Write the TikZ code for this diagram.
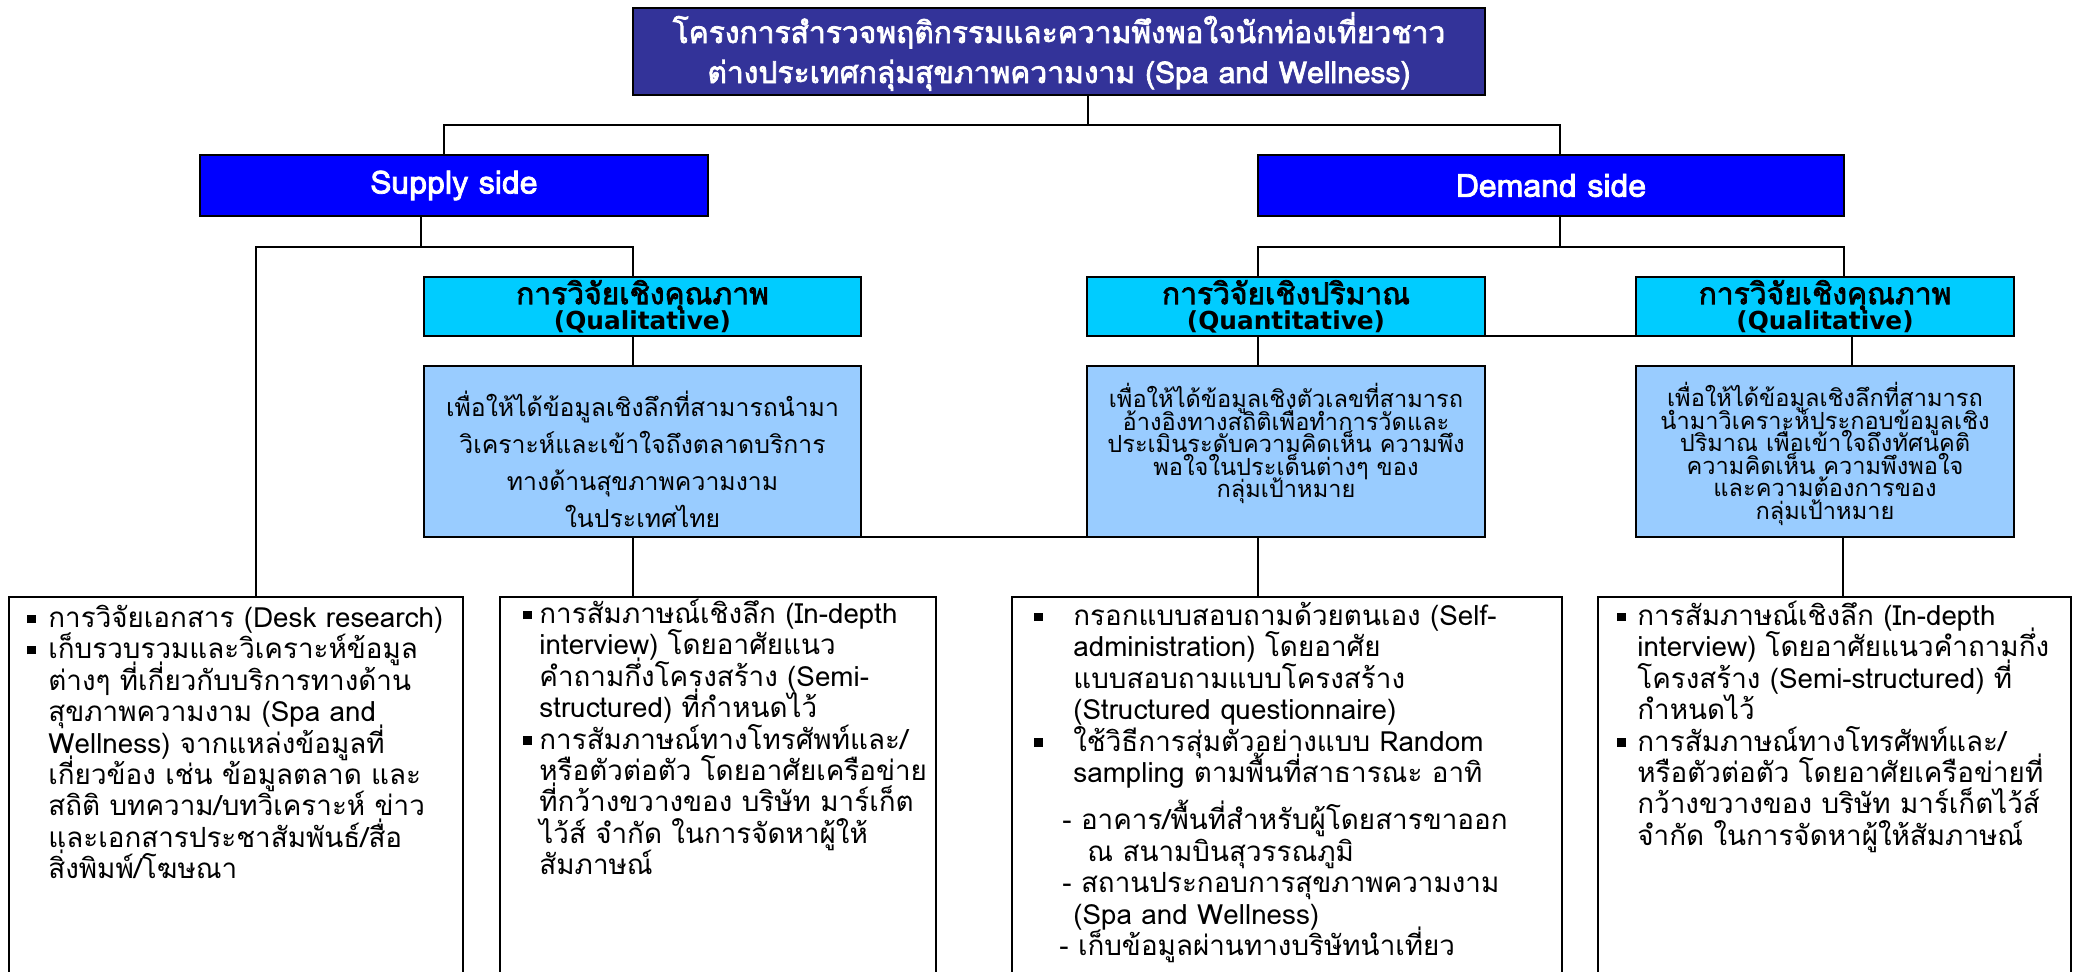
\documentclass[tikz,border=0pt]{standalone}
\usepackage{fontspec}
\newfontfamily\thfont[Script=Thai]{Loma}
\newfontfamily\thbf[Script=Thai,FakeBold=2.4]{Loma}
\newfontfamily\latbf{DejaVu Sans}
\definecolor{titlebg}{HTML}{333399}
\definecolor{sidebg}{HTML}{0000FF}
\definecolor{cyanbg}{HTML}{00CCFF}
\definecolor{lightbg}{HTML}{99CCFF}
\newcommand\sqbul[1]{\makebox[#1][l]{\rule[0.3ex]{0.3em}{0.3em}}}
\newcommand\nolsl{\lineskiplimit-50pt\relax}
\newcommand\cylat[1]{{\latbf\bfseries\fontsize{12.4}{12.5}\selectfont #1}}
\begin{document}
\begin{tikzpicture}[x=0.5pt,y=-0.5pt,
  box/.style={draw=black, line width=1.1pt, inner sep=0pt, outer sep=0pt},
  ttl/.style={box, fill=titlebg, text=white, align=center, font=\thbf\fontsize{15}{20}\selectfont\nolsl},
  side/.style={box, fill=sidebg, text=white, font=\thbf\fontsize{16}{18}\selectfont},
  cyanbox/.style={box, fill=cyanbg, align=center, font=\thbf\fontsize{15}{12.5}\selectfont\nolsl},
  lbox/.style={box, fill=lightbg},
  lbtxt/.style={inner sep=0pt, align=center, font=\thfont\fontsize{12.4}{18.5}\selectfont\nolsl},
  lbtxtb/.style={inner sep=0pt, align=center, font=\thfont\fontsize{11.8}{11.25}\selectfont\nolsl},
  bbox/.style={box, fill=white},
  btxt/.style={anchor=north west, inner sep=0pt, align=left, font=\thfont\fontsize{13.9}{15.7}\selectfont\nolsl},
  conn/.style={draw=black, line width=1.1pt}]
\useasboundingbox (0,0) rectangle (2076,972);
\fill[white] (0,0) rectangle (2076,972);

% boxes
\node[ttl, minimum width=426pt, minimum height=43.5pt] (title) at (1059,51.5)
  {โครงการสำรวจพฤติกรรมและความพึงพอใจนักท่องเที่ยวชาว\\ต่างประเทศกลุ่มสุขภาพความงาม (Spa and Wellness)};
\node[side, minimum width=254pt, minimum height=30.5pt] (supply) at (454,185.5) {Supply side};
\node[side, minimum width=293pt, minimum height=30.5pt] (demand) at (1551,185.5) {Demand side};

\node[cyanbox, minimum width=218.5pt, minimum height=29.5pt] (sq) at (642.5,306.5) {การวิจัยเชิงคุณภาพ\\\cylat{(Qualitative)}};
\node[cyanbox, minimum width=199pt, minimum height=29.5pt] (qn) at (1286,306.5) {การวิจัยเชิงปริมาณ\\\cylat{(Quantitative)}};
\node[cyanbox, minimum width=189pt, minimum height=29.5pt] (dq) at (1825,306.5) {การวิจัยเชิงคุณภาพ\\\cylat{(Qualitative)}};

\node[lbox, minimum width=218.5pt, minimum height=85.5pt] (sl) at (642.5,451.5) {};
\node[lbox, minimum width=199pt, minimum height=85.5pt] (ql) at (1286,451.5) {};
\node[lbox, minimum width=189pt, minimum height=85.5pt] (dl) at (1825,451.5) {};

\node[lbtxt] (sltx) at (642.5,459.5) {เพื่อให้ได้ข้อมูลเชิงลึกที่สามารถนำมา\\วิเคราะห์และเข้าใจถึงตลาดบริการ\\ทางด้านสุขภาพความงาม\\ในประเทศไทย};
\node[lbtxtb] (qltx) at (1286,443.5) {เพื่อให้ได้ข้อมูลเชิงตัวเลขที่สามารถ\\อ้างอิงทางสถิติเพื่อทำการวัดและ\\ประเมินระดับความคิดเห็น ความพึง\\พอใจในประเด็นต่างๆ ของ\\กลุ่มเป้าหมาย};
\node[lbtxtb] (dltx) at (1825,454) {เพื่อให้ได้ข้อมูลเชิงลึกที่สามารถ\\นำมาวิเคราะห์ประกอบข้อมูลเชิง\\ปริมาณ เพื่อเข้าใจถึงทัศนคติ\\ความคิดเห็น ความพึงพอใจ\\และความต้องการของ\\กลุ่มเป้าหมาย};

\node[bbox, minimum width=227pt, minimum height=201.5pt] (b1) at (236,798.5) {};
\node[bbox, minimum width=218pt, minimum height=201.5pt] (b2) at (718,798.5) {};
\node[bbox, minimum width=275pt, minimum height=201.5pt] (b3) at (1287,798.5) {};
\node[bbox, minimum width=236.5pt, minimum height=201.5pt] (b4) at (1834.5,798.5) {};

\node[btxt] (t1) at (27,597) {\rule{0pt}{15pt}\sqbul{10.5pt}การวิจัยเอกสาร (Desk research)\\
\sqbul{10.5pt}เก็บรวบรวมและวิเคราะห์ข้อมูล\\
\hspace*{10.5pt}ต่างๆ ที่เกี่ยวกับบริการทางด้าน\\
\hspace*{10.5pt}สุขภาพความงาม (Spa and\\
\hspace*{10.5pt}Wellness) จากแหล่งข้อมูลที่\\
\hspace*{10.5pt}เกี่ยวข้อง เช่น ข้อมูลตลาด และ\\
\hspace*{10.5pt}สถิติ บทความ/บทวิเคราะห์ ข่าว\\
\hspace*{10.5pt}และเอกสารประชาสัมพันธ์/สื่อ\\
\hspace*{10.5pt}สิ่งพิมพ์/โฆษณา};

\node[btxt] (t2) at (523,593) {\rule{0pt}{15pt}\sqbul{8pt}การสัมภาษณ์เชิงลึก (In-depth\\
\hspace*{8pt}interview) โดยอาศัยแนว\\
\hspace*{8pt}คำถามกึ่งโครงสร้าง (Semi-\\
\hspace*{8pt}structured) ที่กำหนดไว้\\
\sqbul{8pt}การสัมภาษณ์ทางโทรศัพท์และ/\\
\hspace*{8pt}หรือตัวต่อตัว โดยอาศัยเครือข่าย\\
\hspace*{8pt}ที่กว้างขวางของ บริษัท มาร์เก็ต\\
\hspace*{8pt}ไว้ส์ จำกัด ในการจัดหาผู้ให้\\
\hspace*{8pt}สัมภาษณ์};

\node[btxt] (t3) at (1034,595) {\rule{0pt}{15pt}\sqbul{19.5pt}กรอกแบบสอบถามด้วยตนเอง (Self-\\
\hspace*{19.5pt}administration) โดยอาศัย\\
\hspace*{19.5pt}แบบสอบถามแบบโครงสร้าง\\
\hspace*{19.5pt}(Structured questionnaire)\\
\sqbul{19.5pt}ใช้วิธีการสุ่มตัวอย่างแบบ Random\\
\hspace*{19.5pt}sampling ตามพื้นที่สาธารณะ อาทิ\\[8pt]
\hspace*{14pt}- อาคาร/พื้นที่สำหรับผู้โดยสารขาออก\\
\hspace*{26.5pt}ณ สนามบินสุวรรณภูมิ\\
\hspace*{14pt}- สถานประกอบการสุขภาพความงาม\\
\hspace*{19.5pt}(Spa and Wellness)\\
\hspace*{12.5pt}- เก็บข้อมูลผ่านทางบริษัทนำเที่ยว};

\node[btxt] (t4) at (1617,595) {\rule{0pt}{15pt}\sqbul{10pt}การสัมภาษณ์เชิงลึก (In-depth\\
\hspace*{10pt}interview) โดยอาศัยแนวคำถามกึ่ง\\
\hspace*{10pt}โครงสร้าง (Semi-structured) ที่\\
\hspace*{10pt}กำหนดไว้\\
\sqbul{10pt}การสัมภาษณ์ทางโทรศัพท์และ/\\
\hspace*{10pt}หรือตัวต่อตัว โดยอาศัยเครือข่ายที่\\
\hspace*{10pt}กว้างขวางของ บริษัท มาร์เก็ตไว้ส์\\
\hspace*{10pt}จำกัด ในการจัดหาผู้ให้สัมภาษณ์};

% connectors
\coordinate (jt) at (1088,125);
\draw[conn] (title.south -| jt) -- (jt);
\draw[conn] (supply.north -| 444,0) -- (444,125) -- (1560,125) -- (demand.north -| 1560,0);
\draw[conn] (supply.south -| 421,0) -- (421,247);
\draw[conn] (b1.north -| 256,0) -- (256,247) -- (633,247) -- (sq.north -| 633,0);
\draw[conn] (sq.south -| 633,0) -- (sl.north -| 633,0);
\draw[conn] (sl.south -| 633,0) -- (b2.north -| 633,0);
\draw[conn] (sl.south east) -- (ql.south west);
\draw[conn] (demand.south -| 1560,0) -- (1560,247);
\draw[conn] (qn.north -| 1258,0) -- (1258,247) -- (1844,247) -- (dq.north -| 1844,0);
\draw[conn] (qn.south east) -- (dq.south west);
\draw[conn] (qn.south -| 1258,0) -- (ql.north -| 1258,0);
\draw[conn] (ql.south -| 1258,0) -- (b3.north -| 1258,0);
\draw[conn] (dq.south -| 1852,0) -- (dl.north -| 1852,0);
\draw[conn] (dl.south -| 1843,0) -- (b4.north -| 1843,0);
\end{tikzpicture}
\end{document}
